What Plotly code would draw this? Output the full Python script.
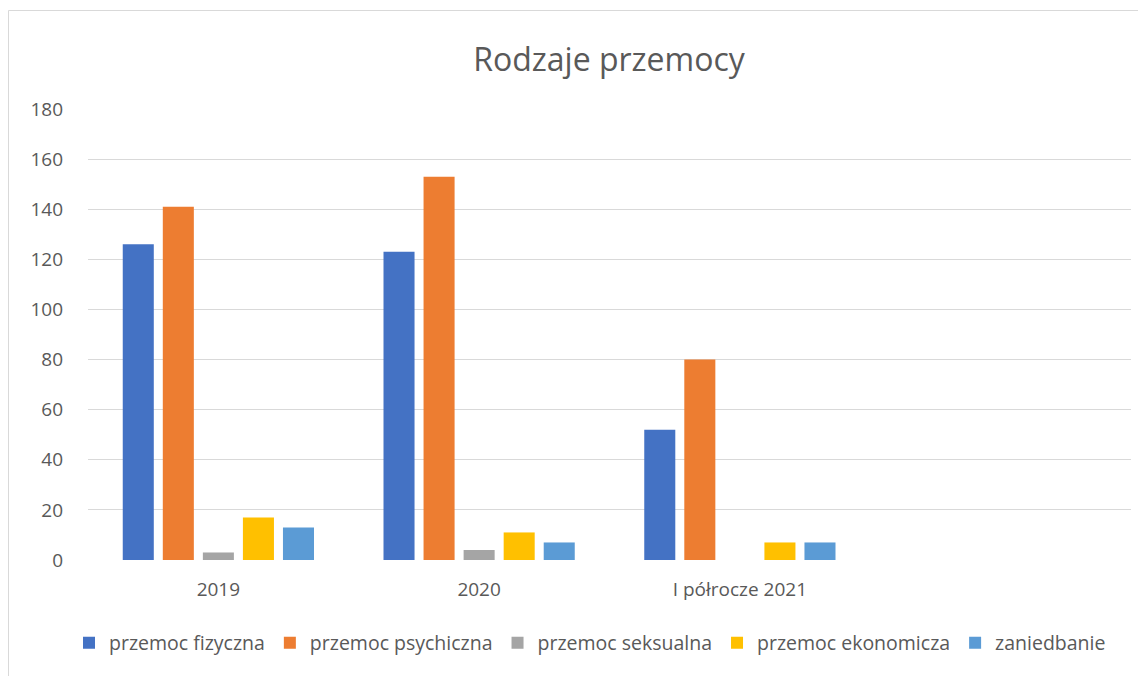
import plotly.graph_objects as go

categories = ["2019", "2020", "I półrocze 2021"]
series_names = ["przemoc fizyczna", "przemoc psychiczna", "przemoc seksualna",
                "przemoc ekonomicza", "zaniedbanie"]
fizyczna = [126, 123, 52]
psychiczna = [141, 153, 80]
seksualna = [3, 4, 0]
ekonomiczna = [17, 11, 7]
zaniedbanie = [13, 7, 7]
colors = ["#4472C4", "#ED7D31", "#A5A5A5", "#FFC000", "#5B9BD5"]
y_ticks = [0, 20, 40, 60, 80, 100, 120, 140, 160, 180]

values = [fizyczna, psychiczna, seksualna, ekonomiczna, zaniedbanie]

FONT = "Open Sans"
TXT = "#595959"

fig = go.Figure()
for name, vals, col in zip(series_names, values, colors):
    fig.add_trace(go.Bar(x=categories, y=vals, name=name, marker_color=col,
                         marker_line_width=0))

OFF = 8  # page body margin
SW, SH = 1146, 676
W, H = SW - OFF, SH - OFF
# plot area in screen pixels
L, R, T, B = 88, 1131, 109, 560

def px_x(p):
    return (p - L) / (R - L)

def px_y(p):
    return (B - p) / (B - T)

fig.update_layout(
    width=W, height=H,
    margin=dict(l=L - OFF, r=SW - R, t=T - OFF, b=SH - B),
    paper_bgcolor="white", plot_bgcolor="white",
    font=dict(family=FONT, color=TXT, size=19),
    title=dict(text="Rodzaje przemocy", x=(609 - OFF) / W, xanchor="center",
               y=1 - (60 - OFF) / H, yanchor="middle", yref="container",
               xref="container",
               font=dict(family=FONT, size=32, color=TXT)),
    barmode="group", bargap=0.232, bargroupgap=0.225,
    showlegend=True,
    legend=dict(orientation="h", x=px_x(590), xanchor="center",
                y=px_y(643), yanchor="middle",
                font=dict(family=FONT, size=19.5, color=TXT),
                itemwidth=30, tracegroupgap=0),
    xaxis=dict(type="category", categoryorder="array", categoryarray=categories,
               range=[-0.5, 3.5], showgrid=False, showline=False, ticks="",
               tickfont=dict(family=FONT, size=19, color=TXT), ticklabelstandoff=16),
    yaxis=dict(range=[0, 180], tickvals=y_ticks, showgrid=True, gridcolor="#D9D9D9",
               gridwidth=1, zeroline=False, showline=False, ticks="",
               tickfont=dict(family=FONT, size=19, color=TXT), ticklabelstandoff=24),
)

fig.add_shape(type="rect", xref="paper", yref="paper",
              x0=px_x(8.5), x1=px_x(1160), y0=px_y(700), y1=px_y(10.5),
              line=dict(color="#D9D9D9", width=1), fillcolor="rgba(0,0,0,0)", layer="below")

fig.write_html("out.html")
